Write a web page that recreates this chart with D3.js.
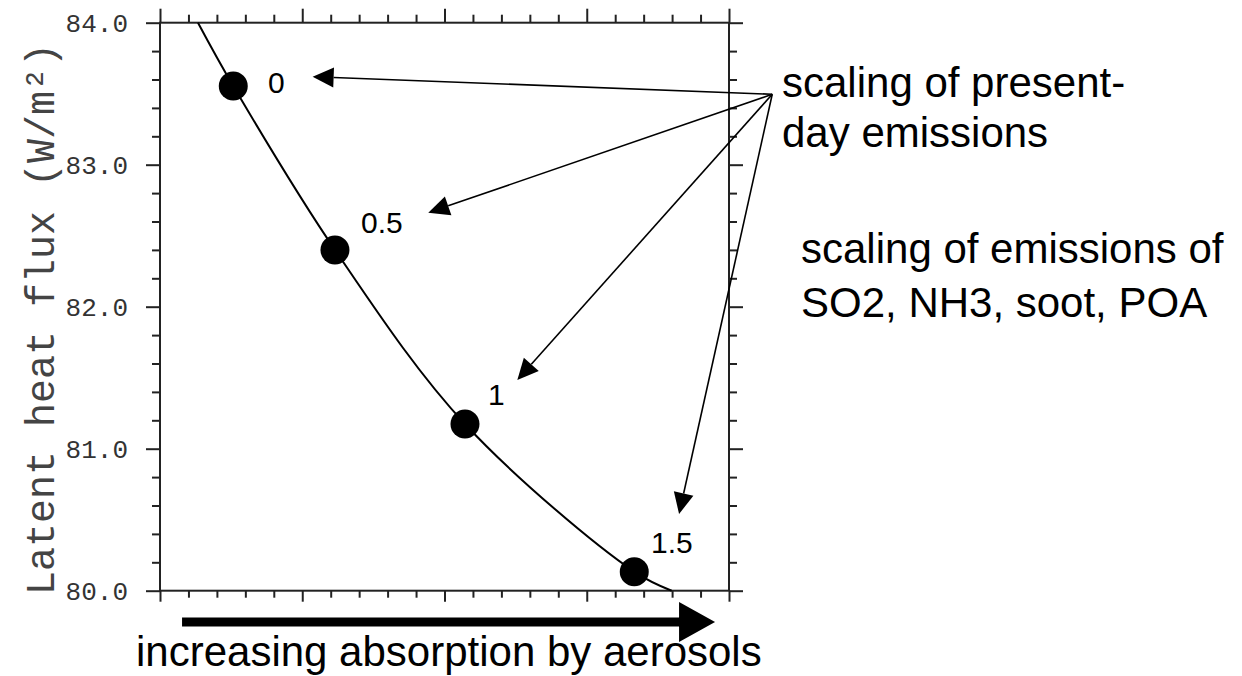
<!DOCTYPE html>
<html>
<head>
<meta charset="utf-8">
<script src="https://cdn.jsdelivr.net/npm/d3@7"></script>
<style>
  body { margin: 0; background: #fff; }
  .tick text { font-family: "Liberation Mono", "Courier New", monospace; font-size: 26px; fill: #333; }
  .tick line { stroke: #222; stroke-width: 2px; }
  .domain { display: none; }
  .annot { font-family: "Liberation Sans", Arial, sans-serif; fill: #000; }
</style>
</head>
<body>
<div id="chart"></div>
<script>
// fitted curve (x: absorption, arbitrary units; y: W/m2)
const curveX = [0.267, 0.515, 1.230, 2.144, 3.334, 3.597];
const curveY = [84.0, 83.554, 82.40, 81.174, 80.134, 80.0];

// the four model runs and their emission scaling factors
const runX = [0.515, 1.230, 2.144, 3.334];
const runY = [83.554, 82.40, 81.174, 80.134];
const runLabels = ["0", "0.5", "1", "1.5"];
const labelX = [0.759, 1.413, 2.306, 3.452];
const labelY = [83.507, 82.519, 81.308, 80.265];

// annotation arrows: all start from one point, one tip per run label
const arrowFrom = [4.304, 83.496];
const tipX = [1.073, 1.886, 2.512, 3.649];
const tipY = [83.620, 82.662, 81.484, 80.540];

const yMajor = [80, 81, 82, 83, 84];
const xMajor = [0, 1, 2, 3, 4];

const noteA = ["scaling of present-", "day emissions"];
const noteB = ["scaling of emissions of", "SO2, NH3, soot, POA"];
const xCaption = "increasing absorption by aerosols";
const yTitle = "Latent heat flux (W/m\u00b2)";

const width = 1242, height = 676;
const frame = { left: 160, right: 729, top: 22.7, bottom: 590.7 };

const svg = d3.select("#chart").append("svg")
    .attr("width", width)
    .attr("height", height);

const x = d3.scaleLinear().domain([0, 4]).range([frame.left, frame.right]);
const y = d3.scaleLinear().domain([80, 84]).range([frame.bottom, frame.top]);

const xMinor = d3.range(0, 4.01, 0.2).filter(v => Math.abs(v - Math.round(v)) > 1e-6);
const yMinor = d3.range(80, 84.01, 0.2).filter(v => Math.abs(v - Math.round(v)) > 1e-6);

// ticks: all point outward, majors longer
function ticks(axisFn, scale, pos, values, size, labels) {
    const a = axisFn(scale).tickValues(values).tickSize(size).tickSizeOuter(0)
        .tickPadding(18)
        .tickFormat(labels ? d3.format(".1f") : "");
    svg.append("g").attr("transform", pos).call(a);
}
ticks(d3.axisLeft, y, `translate(${frame.left},0)`, yMinor, 8, false);
ticks(d3.axisLeft, y, `translate(${frame.left},0)`, yMajor, 14, true);
ticks(d3.axisRight, y, `translate(${frame.right},0)`, yMinor, 8, false);
ticks(d3.axisRight, y, `translate(${frame.right},0)`, yMajor, 14, false);
ticks(d3.axisTop, x, `translate(0,${frame.top})`, xMinor, 8, false);
ticks(d3.axisTop, x, `translate(0,${frame.top})`, xMajor, 14, false);
ticks(d3.axisBottom, x, `translate(0,${frame.bottom})`, xMinor, 7, false);
ticks(d3.axisBottom, x, `translate(0,${frame.bottom})`, xMajor, 11, false);

svg.append("rect")
    .attr("x", frame.left).attr("y", frame.top)
    .attr("width", frame.right - frame.left)
    .attr("height", frame.bottom - frame.top)
    .attr("fill", "none")
    .attr("stroke", "#222")
    .attr("stroke-width", 2);

// y title
svg.append("text")
    .attr("transform", `translate(54,319) rotate(-90)`)
    .attr("text-anchor", "middle")
    .style("font-family", "'Liberation Mono', 'Courier New', monospace")
    .style("font-size", "40px")
    .style("fill", "#444")
    .text(yTitle);

// curve
const pts = curveX.map((v, i) => [x(v), y(curveY[i])]);
svg.append("path")
    .attr("d", d3.line().curve(d3.curveCatmullRom.alpha(0.5))(pts))
    .attr("fill", "none")
    .attr("stroke", "#000")
    .attr("stroke-width", 2);

svg.selectAll("circle.run").data(runX)
  .enter().append("circle")
    .attr("class", "run")
    .attr("cx", d => x(d))
    .attr("cy", (d, i) => y(runY[i]))
    .attr("r", 14.5)
    .attr("fill", "#000");

svg.selectAll("text.runlab").data(runLabels)
  .enter().append("text")
    .attr("class", "annot runlab")
    .attr("x", (d, i) => x(labelX[i]))
    .attr("y", (d, i) => y(labelY[i]))
    .style("font-size", "30px")
    .text(d => d);

// arrows from the note to each scaling label
const headLen = 21, headHalf = 10;
const ox = x(arrowFrom[0]), oy = y(arrowFrom[1]);
tipX.forEach(function(tx, i) {
    const px = x(tx), py = y(tipY[i]);
    const ang = Math.atan2(py - oy, px - ox);
    const bx = px - headLen * Math.cos(ang), by = py - headLen * Math.sin(ang);
    svg.append("line")
        .attr("x1", ox).attr("y1", oy).attr("x2", bx).attr("y2", by)
        .attr("stroke", "#000").attr("stroke-width", 1.6);
    const nx = -Math.sin(ang) * headHalf, ny = Math.cos(ang) * headHalf;
    svg.append("path")
        .attr("d", `M${px},${py}L${bx + nx},${by + ny}L${bx - nx},${by - ny}Z`)
        .attr("fill", "#000");
});

// notes on the right
function note(lines, left, base, step) {
    const t = svg.append("text").attr("class", "annot").style("font-size", "42px");
    lines.forEach(function(s, i) {
        t.append("tspan").attr("x", left).attr("y", base + i * step).text(s);
    });
}
note(noteA, 782, 97, 50);
note(noteB, 801, 263, 54);

// big arrow and caption under the x axis
const ay = 622;
const a0 = x(0.155), aTip = x(3.902), aBase = aTip - 36;
svg.append("path")
    .attr("d", `M${a0},${ay - 4.5}L${aBase},${ay - 4.5}L${aBase},${ay - 20}L${aTip},${ay}` +
               `L${aBase},${ay + 20}L${aBase},${ay + 4.5}L${a0},${ay + 4.5}Z`)
    .attr("fill", "#000");

svg.append("text")
    .attr("class", "annot")
    .attr("x", 136).attr("y", 666)
    .style("font-size", "42px")
    .text(xCaption);
</script>
</body>
</html>
